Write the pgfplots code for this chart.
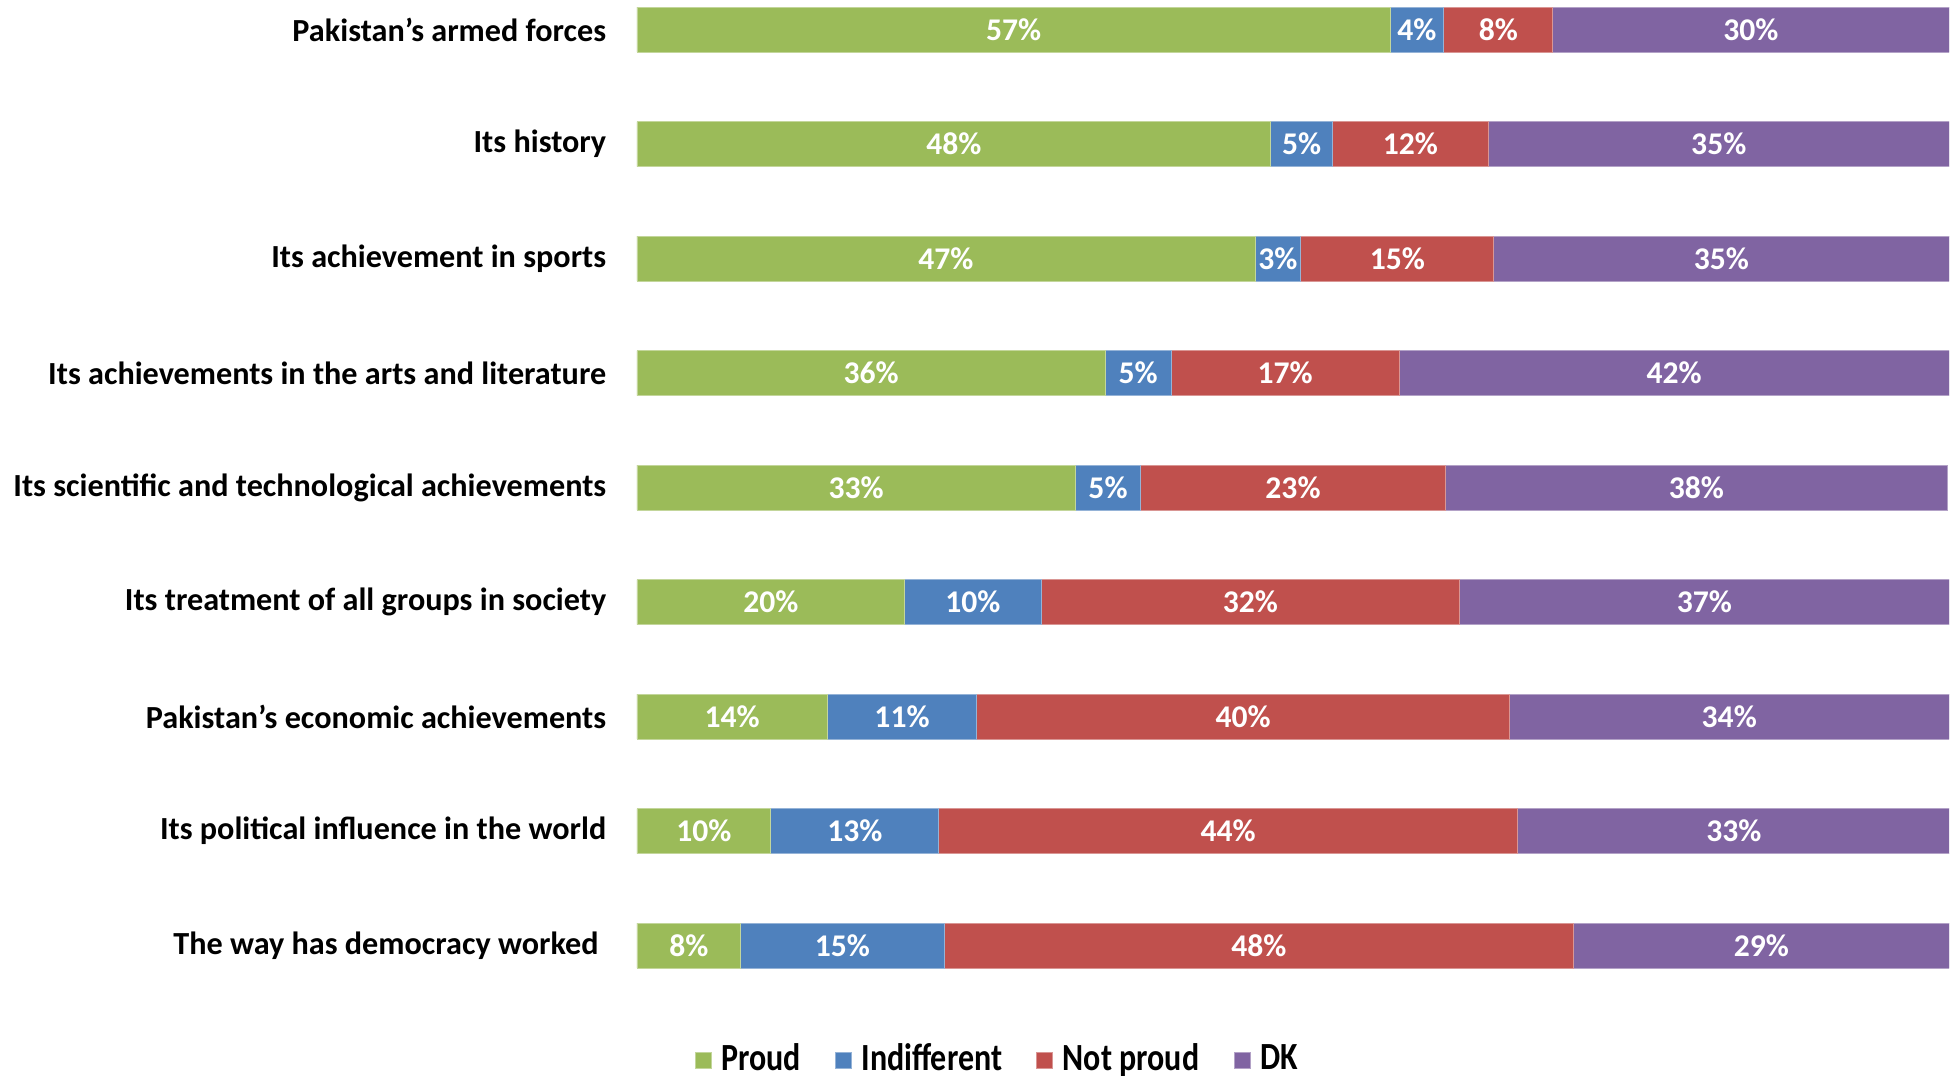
\documentclass[border=0pt]{standalone}
\usepackage{fontspec}
\setmainfont{Carlito}
\usepackage{pgfplots}
\usepackage{pgfplotstable}
\pgfplotsset{compat=1.18}
\definecolor{cProud}{HTML}{9BBB59}
\definecolor{cIndiff}{HTML}{4F81BD}
\definecolor{cNot}{HTML}{C0504D}
\definecolor{cDK}{HTML}{8064A2}

% widths; l* = printed labels
\pgfplotstableread{
idx proud indiff notp dk   lp li ln ld
8   57.4  4.1   8.3  30.2  57 4  8  30
7   48.3  4.7   11.9 35.1  48 5  12 35
6   47.1  3.5   14.7 34.7  47 3  15 35
5   35.7  5.0   17.4 41.9  36 5  17 42
4   33.4  5.0   23.2 38.3  33 5  23 38
3   20.4  10.4  31.9 37.3  20 10 32 37
2   14.5  11.4  40.6 33.5  14 11 40 34
1   10.2  12.8  44.1 33.0  10 13 44 33
0   7.9   15.5  48.0 28.6  8  15 48 29
}\data
\pgfplotstablecreatecol[create col/expr={\thisrow{proud}/2}]{mA}{\data}
\pgfplotstablecreatecol[create col/expr={\thisrow{proud}+\thisrow{indiff}/2}]{mB}{\data}
\pgfplotstablecreatecol[create col/expr={\thisrow{proud}+\thisrow{indiff}+\thisrow{notp}/2}]{mC}{\data}
\pgfplotstablecreatecol[create col/expr={\thisrow{proud}+\thisrow{indiff}+\thisrow{notp}+\thisrow{dk}/2}]{mD}{\data}

\newcommand{\legtxt}[1]{\scalebox{1}[1.2]{#1}}
\pgfplotsset{
  common/.style={
    scale only axis, width=328pt, height=249.04pt,
    xmin=0, xmax=100, ymin=-0.5, ymax=8.2,
  },
  lbl/.style={only marks, mark=none, point meta=explicit symbolic,
    nodes near coords={\pgfplotspointmeta\%},
    every node near coord/.append style={anchor=center, text=white,
      font=\fontsize{7.9}{9}\selectfont\bfseries, inner sep=0pt}},
}

\begin{document}
\begin{tikzpicture}
\useasboundingbox (-159.25pt,-18.06pt) rectangle (330pt,250.69pt);
\begin{axis}[common,
  xbar stacked, bar width=11.25pt,
  axis line style={draw=none}, major tick style={draw=none},
  xtick=\empty,
  ytick={0,...,8},
  yticklabels={The way has democracy worked\hspace*{1.9pt},
    Its political influence in the world,
    Pakistan’s economic achievements,
    Its treatment of all groups in society,
    Its scientific and technological achievements,
    Its achievements in the arts and literature,
    Its achievement in sports,
    Its history,
    Pakistan’s armed forces},
  yticklabel style={font=\fontsize{8.05}{9}\selectfont\bfseries, inner sep=0pt, xshift=-7.5pt},
  legend columns=4,
  legend image code/.code={\fill[#1] (0pt,-2pt) rectangle (4pt,2pt);},
  legend style={draw=none, at={(0.0434,-0.0575)}, anchor=west, inner sep=0pt,
    font=\fontsize{8}{9}\selectfont\bfseries,
    /tikz/every odd column/.append style={column sep=0.4pt},
    /tikz/every even column/.append style={column sep=6.6pt}},
]
\addplot[fill=cProud, draw=cProud!60!white, line width=0.2pt] table[x=proud, y=idx] {\data};
\addplot[fill=cIndiff, draw=cIndiff!60!white, line width=0.2pt] table[x=indiff, y=idx] {\data};
\addplot[fill=cNot, draw=cNot!60!white, line width=0.2pt] table[x=notp, y=idx] {\data};
\addplot[fill=cDK, draw=cDK!60!white, line width=0.2pt] table[x=dk, y=idx] {\data};
\legend{\legtxt{Proud}, \legtxt{Indifferent}, \legtxt{Not proud}, \legtxt{DK}}
\end{axis}
\begin{axis}[common, hide axis, clip=false]
\addplot[lbl] table[x=mA, y=idx, meta=lp] {\data};
\addplot[lbl] table[x=mB, y=idx, meta=li] {\data};
\addplot[lbl] table[x=mC, y=idx, meta=ln] {\data};
\addplot[lbl] table[x=mD, y=idx, meta=ld] {\data};
\end{axis}
\end{tikzpicture}
\end{document}
